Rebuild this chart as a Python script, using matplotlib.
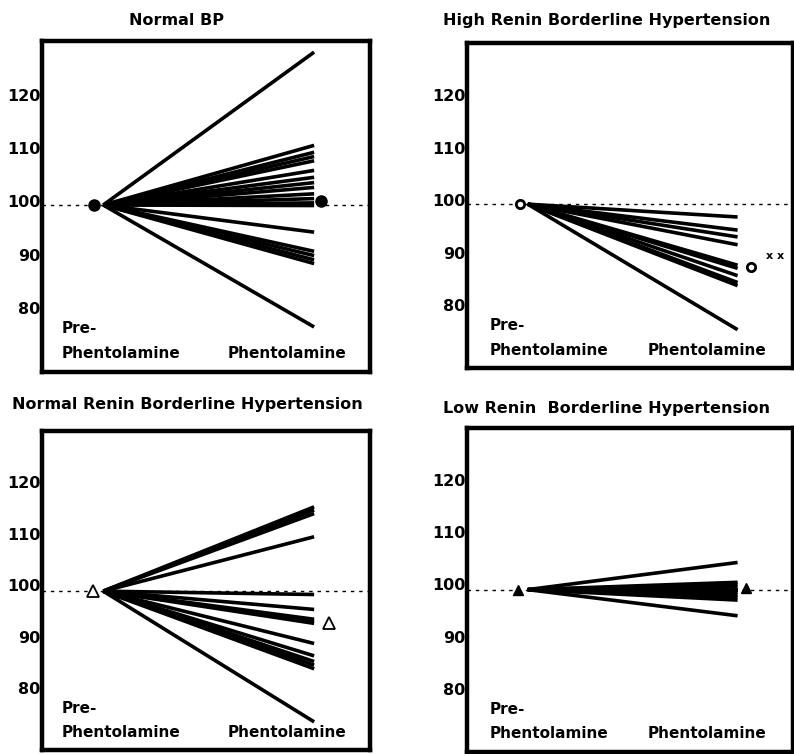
import numpy as np
import matplotlib
matplotlib.use("Agg")
import matplotlib.pyplot as plt

# panel titles
titles = ["Normal BP", "High Renin Borderline Hypertension",
          "Normal Renin Borderline Hypertension", "Low Renin  Borderline Hypertension"]

# % of pre-phentolamine value
baseline = [99.3, 99.25, 98.85, 99.0]

normal_bp_post = [128.0, 110.5, 109.2, 108.4, 107.6, 105.8, 104.5, 103.5, 102.6,
                  101.4, 100.5, 99.7, 99.2, 94.2, 90.6, 89.8, 89.0, 88.3, 76.4]
high_renin_post = [96.8, 94.3, 93.0, 91.5, 87.6, 87.0, 85.6, 84.3, 83.7, 75.3]
normal_renin_post = [115.2, 114.6, 113.9, 109.4, 98.2, 95.3, 93.4, 93.0, 92.6,
                     88.7, 86.3, 85.2, 84.5, 83.8, 73.5]
low_renin_post = [104.2, 100.4, 100.0, 99.5, 99.0, 98.5, 98.0, 97.5, 97.0, 94.0]

# group mean after phentolamine
mean_post = [100.1, 87.2, 92.7, 99.4]
marker_style = [dict(marker="o", mfc="black", ms=8),
                dict(marker="o", mfc="white", ms=6, mew=2),
                dict(marker="^", mfc="white", ms=8, mew=1.3),
                dict(marker="^", mfc="black", ms=7)]
mean_x_pre = [-0.043, -0.038, -0.047, -0.048]
mean_x_post = [1.033, 1.062, 1.07, 1.04]

yticks = [80, 90, 100, 110, 120]

posts = [normal_bp_post, high_renin_post, normal_renin_post, low_renin_post]

fig = plt.figure(figsize=(7.94, 7.54), dpi=100)
rects = [[0.053, 0.507, 0.413, 0.438],
         [0.588, 0.512, 0.411, 0.431],
         [0.053, 0.005, 0.413, 0.424],
         [0.588, 0.003, 0.411, 0.430]]
title_pos = [(0.222, 0.973), (0.764, 0.973), (0.2355, 0.463), (0.764, 0.458)]
label_x = [(0.06, 0.567), (0.07, 0.555), (0.06, 0.567), (0.07, 0.555)]

for i in range(4):
    ax = fig.add_axes(rects[i])
    b = baseline[i]
    ax.axhline(b, color="black", lw=1.0, ls=(0, (2.5, 3.5)), zorder=1)
    for v in posts[i]:
        ax.plot([0, 1], [b, v], color="black", lw=2.6, solid_capstyle="butt", zorder=2)
    st = marker_style[i]
    ax.plot([mean_x_pre[i]], [b], color="black", ls="none", mec="black", zorder=3, **st)
    ax.plot([mean_x_post[i]], [mean_post[i]], color="black", ls="none", mec="black", zorder=3, **st)
    if i == 1:
        ax.text(1.18, 89.3, "x x", fontsize=8, fontweight="bold", ha="center", va="center")

    ax.set_xlim(-0.29, 1.265)
    ax.set_ylim(68, 130)
    ax.set_xticks([])
    ax.set_yticks(yticks)
    ax.set_yticklabels([str(t) for t in yticks], fontsize=11.5, fontweight="bold")
    ax.tick_params(axis="y", length=0, pad=1)
    for s in ax.spines.values():
        s.set_linewidth(3.2)

    lx0, lx1 = label_x[i]
    ax.text(lx0, 0.13, "Pre-", transform=ax.transAxes, fontsize=11, fontweight="bold",
            ha="left", va="center")
    ax.text(lx0, 0.055, "Phentolamine", transform=ax.transAxes, fontsize=11,
            fontweight="bold", ha="left", va="center")
    ax.text(lx1, 0.055, "Phentolamine", transform=ax.transAxes, fontsize=11,
            fontweight="bold", ha="left", va="center")

    fig.text(title_pos[i][0], title_pos[i][1], titles[i], fontsize=11.5,
             fontweight="bold", ha="center", va="center")

fig.savefig("out.png", dpi=100)
